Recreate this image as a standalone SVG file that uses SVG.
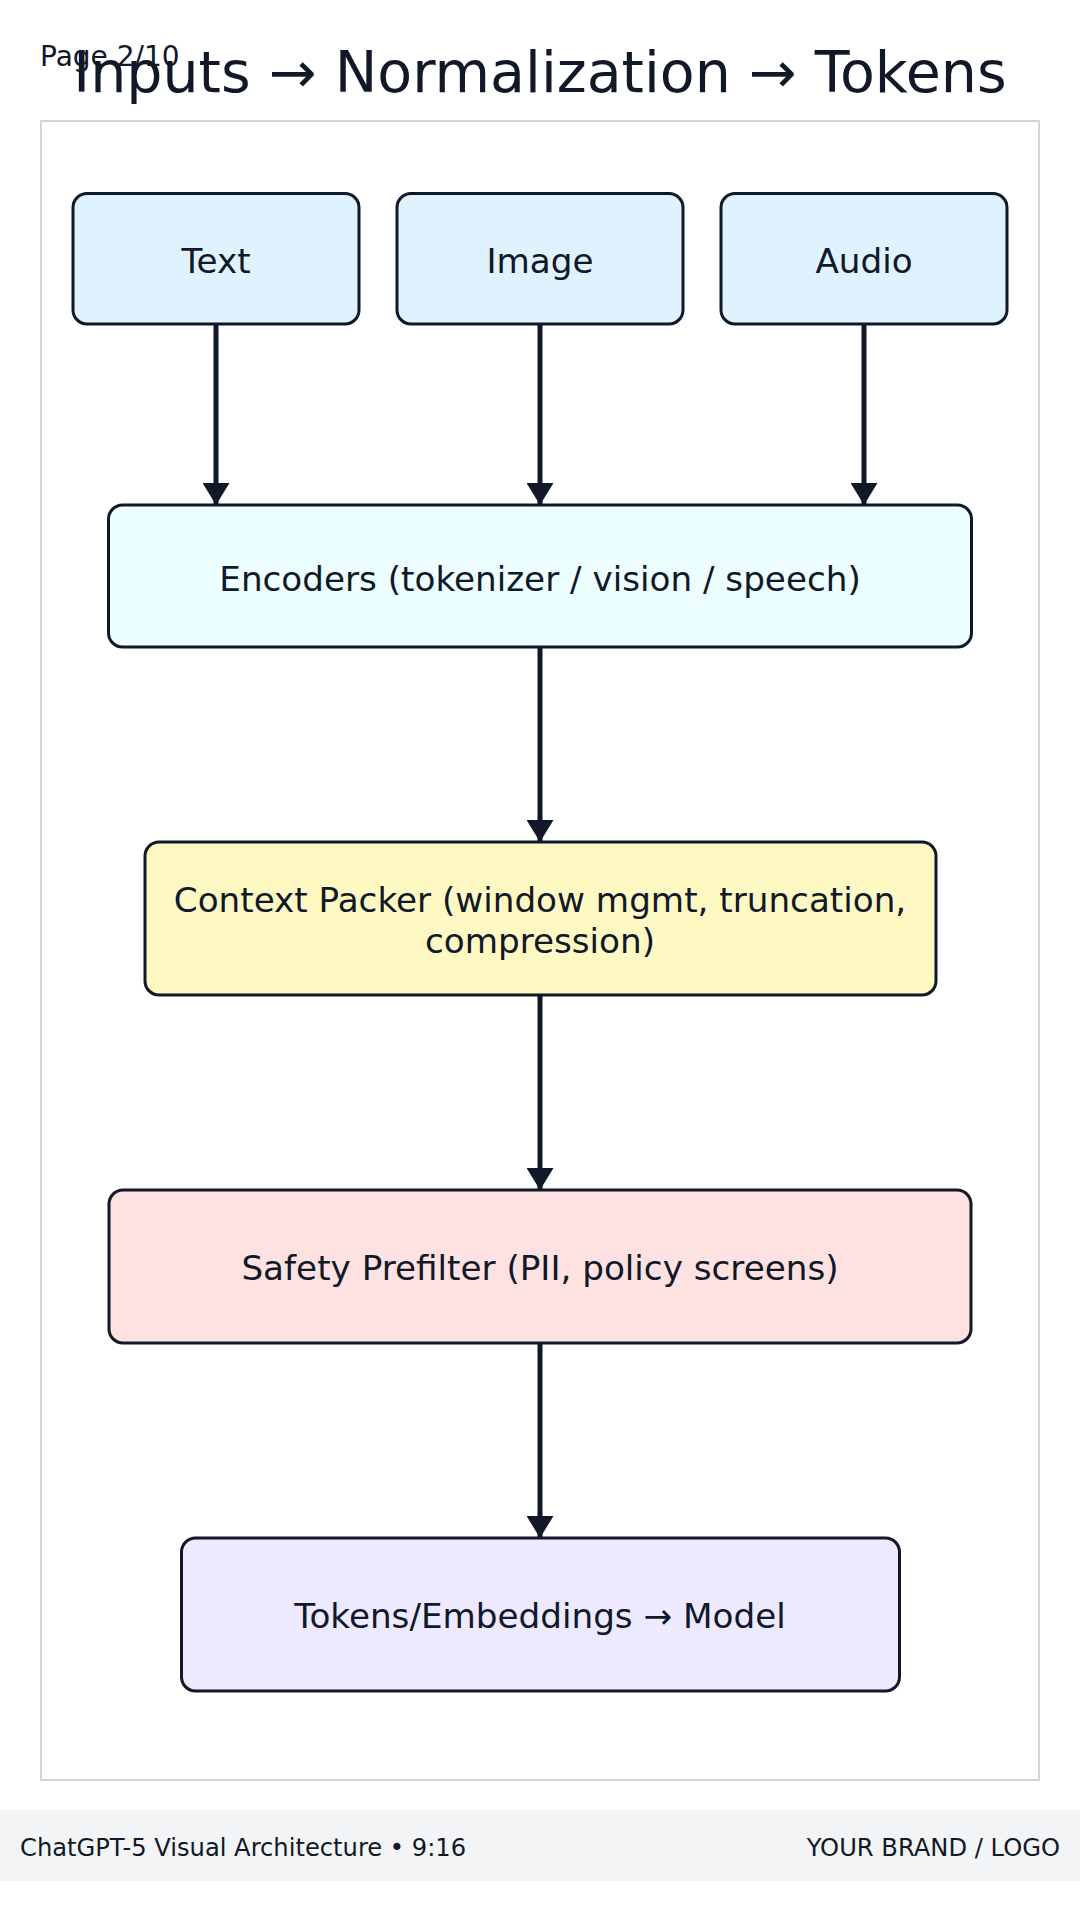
<svg xmlns="http://www.w3.org/2000/svg" width="1080" height="1920" viewBox="0 0 1080 1920">
<style>
text{font-family:"DejaVu Sans","Liberation Sans",sans-serif;fill:#111827}
.node rect{stroke:#111827;stroke-width:3}
.lbl{font-size:34.2px;text-anchor:middle}
.conn line{stroke:#111827;stroke-width:5;marker-end:url(#ah)}
.in{fill:#e0f2fe}
</style>
<defs>
<marker id="ah" markerUnits="userSpaceOnUse" viewBox="0 0 22 27" refX="22" refY="13.5" markerWidth="22" markerHeight="27" orient="auto">
<path d="M0,0 L22,13.5 L0,27 z" fill="#111827"/>
</marker>
</defs>
<rect width="1080" height="1920" fill="#ffffff"/>
<rect x="41" y="121" width="998" height="1659" fill="#ffffff" stroke="#d1d5db" stroke-width="2"/>
<text x="540" y="92" font-size="57" text-anchor="middle">Inputs → Normalization → Tokens</text>
<text x="40" y="66" font-size="28">Page 2/10</text>
<g class="conn">
<line x1="216" y1="324" x2="216" y2="505"/>
<line x1="540" y1="324" x2="540" y2="505"/>
<line x1="864" y1="324" x2="864" y2="505"/>
<line x1="540" y1="647" x2="540" y2="842"/>
<line x1="540" y1="995" x2="540" y2="1190"/>
<line x1="540" y1="1343" x2="540" y2="1538"/>
</g>
<g id="node-text" class="node"><rect class="in" x="73" y="193.5" width="286" height="130.5" rx="14"/><text class="lbl" x="216" y="273">Text</text></g>
<g id="node-image" class="node"><rect class="in" x="397" y="193.5" width="286" height="130.5" rx="14"/><text class="lbl" x="540" y="273">Image</text></g>
<g id="node-audio" class="node"><rect class="in" x="721" y="193.5" width="286" height="130.5" rx="14"/><text class="lbl" x="864" y="273">Audio</text></g>
<g id="node-encoders" class="node"><rect x="108.5" y="505" width="863" height="142" rx="14" fill="#ecfeff"/><text class="lbl" x="540" y="591">Encoders (tokenizer / vision / speech)</text></g>
<g id="node-context" class="node"><rect x="145" y="842" width="791" height="153" rx="14" fill="#fef9c3"/><text class="lbl" x="540" y="912">Context Packer (window mgmt, truncation,</text><text class="lbl" x="540" y="953">compression)</text></g>
<g id="node-safety" class="node"><rect x="109" y="1190" width="862" height="153" rx="14" fill="#fee2e2"/><text class="lbl" x="540" y="1280">Safety Prefilter (PII, policy screens)</text></g>
<g id="node-tokens" class="node"><rect x="181.5" y="1538" width="718" height="153" rx="14" fill="#ede9fe"/><text class="lbl" x="540" y="1628">Tokens/Embeddings → Model</text></g>
<rect x="0" y="1810" width="1080" height="71" fill="#f3f4f6"/>
<text x="20" y="1856" font-size="24.2">ChatGPT-5 Visual Architecture • 9:16</text>
<text x="1060" y="1856" font-size="24.2" text-anchor="end">YOUR BRAND / LOGO</text>
</svg>
